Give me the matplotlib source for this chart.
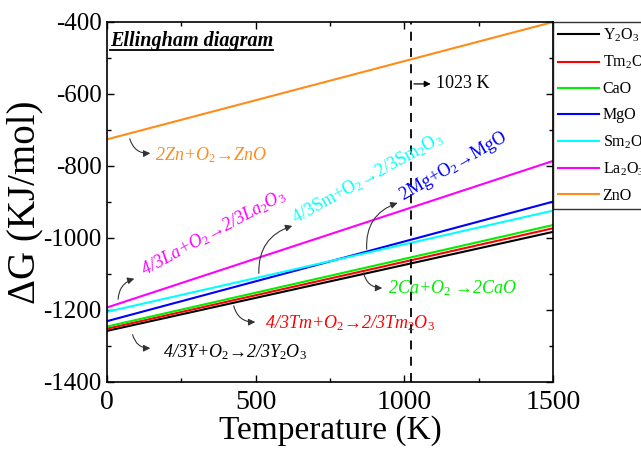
import matplotlib
matplotlib.use("Agg")
import matplotlib.pyplot as plt
from matplotlib.lines import Line2D

plt.rcParams['font.family'] = ['Liberation Serif', 'DejaVu Sans']
plt.rcParams['mathtext.fontset'] = 'custom'
plt.rcParams['mathtext.rm'] = 'Liberation Serif'
plt.rcParams['mathtext.it'] = 'Liberation Serif:italic'
plt.rcParams['mathtext.bf'] = 'Liberation Serif:bold'
plt.rcParams['axes.unicode_minus'] = False

# Temperature range (K) and standard free energy of formation (kJ/mol O2)
temperature = [0, 1500]
oxides = ["Y$_2$O$_3$", "Tm$_2$O$_3$", "CaO", "MgO", "Sm$_2$O$_3$", "La$_2$O$_3$", "ZnO"]
dG_at_0 = [-1258, -1252, -1246, -1231, -1205, -1193, -726]
dG_at_1500 = [-983, -973, -964, -899, -924, -786, -400]
colors = ["#000000", "#ff0000", "#00ee00", "#0000ff", "#00ffff", "#ff00ff", "#ff8c1a"]

t_marker = 1023

fig = plt.figure(figsize=(6.41, 4.53), dpi=100)
ax = fig.add_axes([107/641, 1 - 382/453, 446/641, 360/453])

handles = []
for name, g0, g1, c in zip(oxides, dG_at_0, dG_at_1500, colors):
    h, = ax.plot(temperature, [g0, g1], color=c, lw=1.5, label=name)
    handles.append(h)

ax.axvline(t_marker, color="black", lw=1.3, ls=(0, (5, 4)))

ax.set_xlim(0, 1500)
ax.set_ylim(-1400, -400)
ax.set_xticks([0, 500, 1000, 1500])
ax.set_xticks([250, 750, 1250], minor=True)
ax.set_yticks(range(-1400, -399, 200))
ax.set_yticks(range(-1300, -400, 200), minor=True)
ax.tick_params(which="both", direction="in", top=True, right=True, width=1.0)
ax.tick_params(which="major", length=5)
ax.tick_params(which="minor", length=3)
ax.tick_params(axis="x", labelsize=20, pad=6)
ax.tick_params(axis="y", labelsize=18, pad=4)
for s in ax.spines.values():
    s.set_linewidth(1.2)

ax.set_xlabel("Temperature (K)", fontsize=24, labelpad=0)
ax.set_ylabel("ΔG (KJ/mol)", fontsize=28, labelpad=0)

# reaction labels with curved leader arrows
arrow_kw = dict(arrowstyle="-|>", color="#333333", lw=0.8, mutation_scale=10)
fs = 13
arr = "→"

ax.annotate("", xy=(155, -764), xytext=(74, -717),
            arrowprops=dict(connectionstyle="arc3,rad=0.45", **arrow_kw))
ax.text(161, -769, f"2Zn+O$_2${arr}ZnO", color=colors[6], fontsize=fs,
        style="italic", ha="left", va="center")

ax.annotate("", xy=(101, -1111), xytext=(37, -1178),
            arrowprops=dict(connectionstyle="arc3,rad=-0.4", **arrow_kw))
ax.text(128, -1106, f"4/3La+O$_2${arr}2/3La$_2$O$_3$", color=colors[5], fontsize=fs,
        style="italic", ha="left", va="baseline", rotation=28.5, rotation_mode="anchor")

ax.annotate("", xy=(632, -964), xytext=(511, -1106),
            arrowprops=dict(connectionstyle="arc3,rad=-0.4", **arrow_kw))
ax.text(635, -960, f"4/3Sm+O$_2${arr}2/3Sm$_2$O$_3$", color=colors[4], fontsize=fs,
        ha="left", va="baseline", rotation=29, rotation_mode="anchor")

ax.annotate("", xy=(986, -900), xytext=(874, -1039),
            arrowprops=dict(connectionstyle="arc3,rad=-0.4", **arrow_kw))
ax.text(995, -896, f"2Mg+O$_2${arr}MgO", color=colors[3], fontsize=fs,
        ha="left", va="baseline", rotation=30, rotation_mode="anchor")

ax.annotate("", xy=(935, -1139), xytext=(861, -1089),
            arrowprops=dict(connectionstyle="arc3,rad=0.45", **arrow_kw))
ax.text(945, -1139, f"2Ca+O$_2$ {arr}2CaO", color=colors[2], fontsize=fs,
        style="italic", ha="left", va="center")

ax.annotate("", xy=(508, -1233), xytext=(424, -1181),
            arrowprops=dict(connectionstyle="arc3,rad=0.45", **arrow_kw))
ax.text(532, -1236, f"4/3Tm+O$_2${arr}2/3Tm$_2$O$_3$", color=colors[1], fontsize=fs,
        style="italic", ha="left", va="center")

ax.annotate("", xy=(155, -1306), xytext=(84, -1261),
            arrowprops=dict(connectionstyle="arc3,rad=0.45", **arrow_kw))
ax.text(188, -1317, f"4/3Y+O$_2${arr}2/3Y$_2$O$_3$", color=colors[0], fontsize=fs,
        style="italic", ha="left", va="center")

ax.annotate("", xy=(t_marker + 75, -572), xytext=(t_marker, -572),
            arrowprops=dict(arrowstyle="-|>", color="black", lw=0.9, mutation_scale=9))
ax.text(t_marker + 85, -572, f"{t_marker} K", fontsize=13, ha="left", va="center")

title = ax.text(10, -452, "Ellingham diagram", fontsize=14.5, fontweight="bold",
                style="italic", ha="left", va="center")

leg = fig.legend(handles=handles, loc="upper left",
                 bbox_to_anchor=(553/641, 1 - 22/453), fontsize=11.5,
                 frameon=True, fancybox=False, edgecolor="black",
                 handlelength=2.6, handletextpad=0.2, labelspacing=0.62,
                 borderpad=0.3, borderaxespad=0)
leg.get_frame().set_linewidth(1.0)

# underline the diagram title
fig.canvas.draw()
bb = title.get_window_extent(fig.canvas.get_renderer())
inv = fig.transFigure.inverted()
(x0, y0), (x1, _) = inv.transform([(bb.x0, bb.y0 + 1), (bb.x1, bb.y0)])
fig.add_artist(Line2D([x0, x1], [y0, y0], color="black", lw=1.3,
                      transform=fig.transFigure))

fig.savefig("out.png", dpi=100)
